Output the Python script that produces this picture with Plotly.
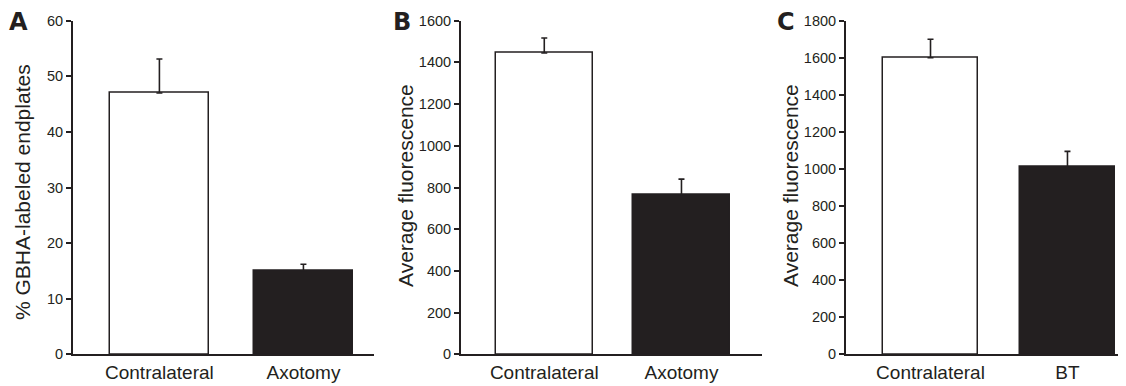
import plotly.graph_objects as go

# ---- data ----
cats_a = ["Contralateral", "Axotomy"]
vals_a = [47, 15]
err_a = [6.1, 1.2]

cats_b = ["Contralateral", "Axotomy"]
vals_b = [1445, 765]
err_b = [72, 75]

cats_c = ["Contralateral", "BT"]
vals_c = [1600, 1010]
err_c = [100, 85]

ytitle_a = "% GBHA-labeled endplates"
ytitle_bc = "Average fluorescence"
panel_letters = ["A", "B", "C"]

yticks_a = [0, 10, 20, 30, 40, 50, 60]
yticks_b = [0, 200, 400, 600, 800, 1000, 1200, 1400, 1600]
yticks_c = [0, 200, 400, 600, 800, 1000, 1200, 1400, 1600, 1800]

W, H = 1126, 386
OFF = 8  # page body margin offset
FONT = "Liberation Sans, Arial, sans-serif"
BAR_FILLS = ["white", "#231f20"]
BAR_LINE = "#231f20"

panels = [
    dict(cats=cats_a, vals=vals_a, err=err_a, ticks=yticks_a, ymax=60,
         x0=73, x1=374, xr=[-0.60, 1.49], width=0.69, title=ytitle_a, tx=22, ty=192),
    dict(cats=cats_b, vals=vals_b, err=err_b, ticks=yticks_b, ymax=1600,
         x0=461, x1=762, xr=[-0.607, 1.587], width=0.71, title=ytitle_bc, tx=405, ty=186),
    dict(cats=cats_c, vals=vals_c, err=err_c, ticks=yticks_c, ymax=1800,
         x0=846, x1=1125, xr=[-0.617, 1.42], width=0.70, title=ytitle_bc, tx=790, ty=186),
]
letter_pos = [(18, 22), (402, 22), (786, 22)]

def fx(px):
    return (px - OFF) / W

def fy(py):
    return (H - (py - OFF)) / H

y_top_px, y_bot_px = 20.7, 354.3
ydom = [fy(y_bot_px), fy(y_top_px)]

fig = go.Figure()
annotations = []
for i, p in enumerate(panels):
    n = "" if i == 0 else str(i + 1)
    xa, ya = "x" + n, "y" + n
    fig.add_trace(go.Bar(
        x=p["cats"], y=p["vals"], width=p["width"],
        marker=dict(color=BAR_FILLS, line=dict(color=BAR_LINE, width=1.5)),
        error_y=dict(type="data", symmetric=False, array=p["err"],
                     arrayminus=[0] * len(p["err"]), color=BAR_LINE,
                     thickness=1.6, width=3),
        xaxis=xa, yaxis=ya, showlegend=False, hoverinfo="skip",
    ))
    fig.update_layout(**{
        ("xaxis" + n): dict(
            domain=[fx(p["x0"]), fx(p["x1"])], anchor=ya, type="category",
            range=p["xr"], showline=True, linecolor="#231f20", linewidth=2,
            ticks="", showgrid=False, zeroline=False, automargin=False,
            tickfont=dict(family=FONT, size=19, color="#231f20"),
        ),
        ("yaxis" + n): dict(
            domain=ydom, anchor=xa, range=[0, p["ymax"]], automargin=False,
            tickvals=p["ticks"], showline=True, linecolor="#231f20", linewidth=2,
            ticks="outside", ticklen=5, tickwidth=1.5, tickcolor="#231f20",
            showgrid=False, zeroline=False,
            tickfont=dict(family=FONT, size=14.5, color="#231f20"),
        ),
    })
    annotations.append(dict(
        text=p["title"], textangle=-90, xref="paper", yref="paper",
        x=fx(p["tx"]), y=fy(p["ty"]), xanchor="center", yanchor="middle",
        showarrow=False, font=dict(family=FONT, size=21, color="#231f20"),
    ))
    lx, ly = letter_pos[i]
    annotations.append(dict(
        text="<b>" + panel_letters[i] + "</b>", xref="paper", yref="paper",
        x=fx(lx), y=fy(ly), xanchor="center", yanchor="middle",
        showarrow=False, font=dict(family="DejaVu Sans, Arial Black, sans-serif", size=24, color="#231f20"),
    ))

fig.update_layout(
    template="none",
    width=W, height=H, margin=dict(l=0, r=0, t=0, b=0, pad=0),
    paper_bgcolor="white", plot_bgcolor="white",
    annotations=annotations, bargap=0,
)

fig.write_html("out.html")
